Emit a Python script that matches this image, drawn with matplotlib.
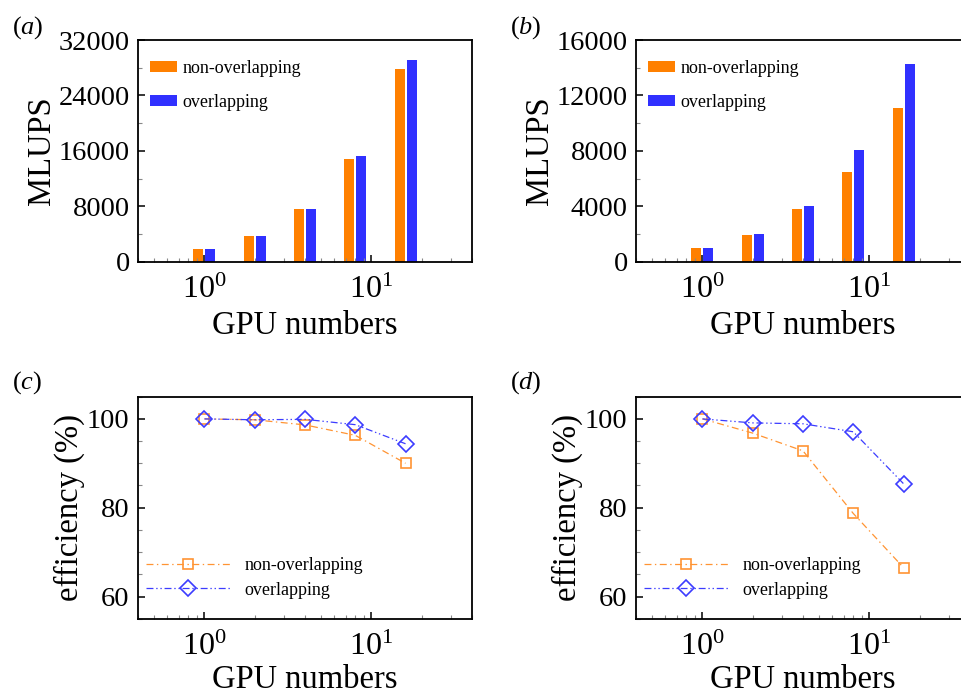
import matplotlib
matplotlib.use("Agg")
import matplotlib.pyplot as plt
import numpy as np
from matplotlib.ticker import LogLocator, FuncFormatter, NullFormatter, MultipleLocator
from matplotlib.patches import Patch
from matplotlib.lines import Line2D

# ---------------- data ----------------
gpus = [1, 2, 4, 8, 16]
mlups_a_non = [1830, 3790, 7600, 14800, 27770]
mlups_a_ovl = [1850, 3800, 7640, 15230, 29120]
mlups_b_non = [985, 1970, 3845, 6510, 11075]
mlups_b_ovl = [995, 2000, 4060, 8050, 14245]
eff_c_non = [100.0, 99.8, 98.65, 96.3, 90.0]
eff_c_ovl = [100.0, 99.8, 99.9, 98.7, 94.4]
eff_d_non = [100.0, 96.8, 92.8, 78.7, 66.5]
eff_d_ovl = [100.0, 99.1, 98.9, 97.1, 85.4]
series_labels = ["non-overlapping", "overlapping"]
panel_labels = ["a", "b", "c", "d"]
xlabel = "GPU numbers"
ylabel_top = "MLUPS"
ylabel_bot = "efficiency (%)"

# ---------------- style ----------------
plt.rcParams['font.family'] = ['Liberation Serif', 'DejaVu Serif']
plt.rcParams['mathtext.fontset'] = 'custom'
plt.rcParams['mathtext.rm'] = 'Liberation Serif'
plt.rcParams['mathtext.it'] = 'Liberation Serif:italic'
plt.rcParams['lines.scale_dashes'] = False

C_OR_BAR = '#FF8000'
C_BL_BAR = '#3030FF'
C_OR_LN = '#FF9433'
C_BL_LN = '#3C3CFF'

W, H = 962, 696
fig = plt.figure(figsize=(W / 100, H / 100), dpi=100)

def ax_rect(left, top, right, bottom):
    return [left / W, 1 - bottom / H, (right - left) / W, (bottom - top) / H]

axA = fig.add_axes(ax_rect(138, 40, 472, 262))
axB = fig.add_axes(ax_rect(636, 40, 970, 262))
axC = fig.add_axes(ax_rect(138, 396.7, 472, 618.7))
axD = fig.add_axes(ax_rect(636, 396.7, 970, 618.7))

def xfmt(v, pos):
    e = int(round(np.log10(v)))
    return r'$\mathregular{10^{%d}}$' % e

def style_axis(ax, ymin, ymax, ymaj, ymin_step, ylabel, ylab_x, xlab_y):
    ax.set_xscale('log')
    ax.set_xlim(0.4, 40)
    ax.set_ylim(ymin, ymax)
    ax.xaxis.set_major_locator(LogLocator(base=10))
    ax.xaxis.set_minor_locator(LogLocator(base=10, subs=np.arange(2, 10)))
    ax.xaxis.set_major_formatter(FuncFormatter(xfmt))
    ax.xaxis.set_minor_formatter(NullFormatter())
    ax.yaxis.set_major_locator(MultipleLocator(ymaj))
    ax.yaxis.set_minor_locator(MultipleLocator(ymin_step))
    ax.tick_params(which='both', direction='in', top=False, right=False)
    ax.tick_params(which='major', length=5, width=1.1, color='black')
    ax.tick_params(which='minor', length=3, width=0.8, color='#888888')
    ax.tick_params(axis='x', which='major', labelsize=23, pad=10)
    ax.tick_params(axis='y', which='major', labelsize=20.5, pad=6)
    for sp in ax.spines.values():
        sp.set_linewidth(1.3)
    ax.set_xlabel(xlabel, fontsize=23.5)
    ax.set_ylabel(ylabel, fontsize=23.5)
    ax.xaxis.set_label_coords(0.5, xlab_y)
    ax.yaxis.set_label_coords(ylab_x, 0.5)

def bars(ax, non, ovl):
    x = np.array(gpus, dtype=float)
    lo1, hi1 = x * 10 ** -0.066, x * 10 ** -0.006
    lo2, hi2 = x * 10 ** 0.006, x * 10 ** 0.066
    ax.bar(lo1, non, width=hi1 - lo1, align='edge', color=C_OR_BAR, edgecolor='none')
    ax.bar(lo2, ovl, width=hi2 - lo2, align='edge', color=C_BL_BAR, edgecolor='none')
    handles = [Patch(facecolor=C_OR_BAR, edgecolor='none'), Patch(facecolor=C_BL_BAR, edgecolor='none')]
    ax.legend(handles, series_labels, loc='upper left', bbox_to_anchor=(0.036, 0.91),
              frameon=False, fontsize=13, handlelength=1.5, handleheight=0.55,
              handletextpad=0.3, labelspacing=0.95, borderpad=0, borderaxespad=0)

def lines(ax, non, ovl):
    kw1 = dict(color=C_OR_LN, lw=0.9, dashes=(5, 2.5, 1, 2.5),
               marker='s', ms=7.5, mfc='none', mec=C_OR_LN, mew=1.2)
    kw2 = dict(color=C_BL_LN, lw=0.9, dashes=(5, 2, 1, 2, 1, 2),
               marker='D', ms=8.5, mfc='none', mec=C_BL_LN, mew=1.2)
    ax.plot(gpus, non, **kw1)
    ax.plot(gpus, ovl, **kw2)
    h1 = Line2D([], [], **kw1)
    h2 = Line2D([], [], **kw2)
    ax.legend([h1, h2], series_labels, loc='lower left', bbox_to_anchor=(0.024, 0.09),
              frameon=False, fontsize=13, handlelength=4.65, handletextpad=0.8,
              labelspacing=0.4, borderpad=0, borderaxespad=0, numpoints=1)

style_axis(axA, 0, 32000, 8000, 4000, ylabel_top, -0.243, -0.22)
style_axis(axB, 0, 16000, 4000, 2000, ylabel_top, -0.243, -0.22)
style_axis(axC, 55, 105, 20, 5, ylabel_bot, -0.158, -0.205)
style_axis(axD, 55, 105, 20, 5, ylabel_bot, -0.158, -0.205)

bars(axA, mlups_a_non, mlups_a_ovl)
bars(axB, mlups_b_non, mlups_b_ovl)
lines(axC, eff_c_non, eff_c_ovl)
lines(axD, eff_d_non, eff_d_ovl)

for lab, (px, py) in zip(panel_labels, [(12, 28), (510, 28), (12, 383), (510, 383)]):
    fig.text(px / W, 1 - py / H, r'($\mathit{%s}$)' % lab, fontsize=19,
             ha='left', va='center')

fig.savefig('out.png', dpi=100)
